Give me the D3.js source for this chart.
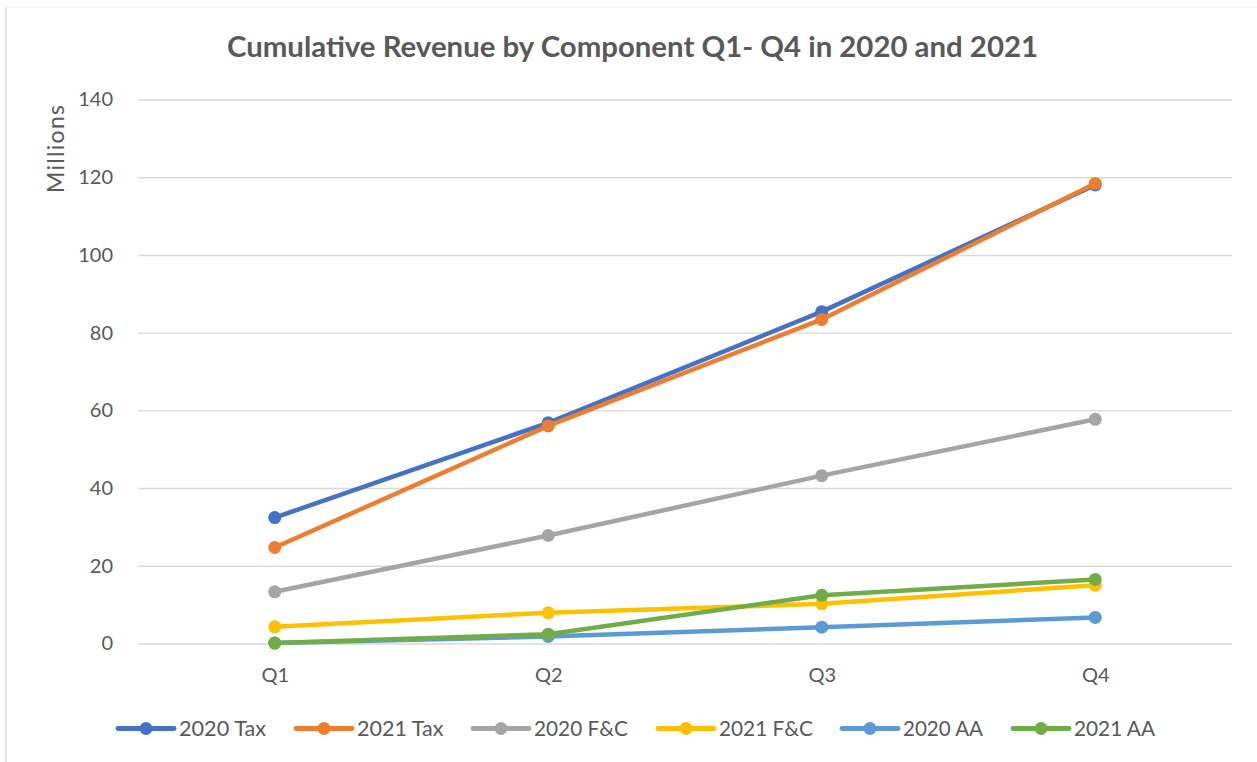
<!DOCTYPE html>
<html>
<head>
<meta charset="utf-8">
<script src="https://cdn.jsdelivr.net/npm/d3@7"></script>
<style>
  html, body { margin: 0; padding: 0; background: #fff; }
  svg { display: block; }
  text { font-family: Lato, "Open Sans", sans-serif; fill: #595959; }
</style>
</head>
<body>
<svg id="chart" width="1257" height="762"></svg>
<script>
// Quarterly cumulative revenue, in millions
const quarters = ["Q1", "Q2", "Q3", "Q4"];
const seriesNames = ["2020 Tax", "2021 Tax", "2020 F&C", "2021 F&C", "2020 AA", "2021 AA"];
const tax2020 = [32.4, 56.8, 85.4, 118.0];
const tax2021 = [24.7, 56.0, 83.4, 118.4];
const fc2020  = [13.3, 27.8, 43.2, 57.7];
const fc2021  = [4.3, 7.9, 10.2, 15.0];
const aa2020  = [0.1, 1.8, 4.2, 6.7];
const aa2021  = [0.1, 2.4, 12.4, 16.5];
const yTicks = [0, 20, 40, 60, 80, 100, 120, 140];
const colors = ["#4472C4", "#ED7D31", "#A5A5A5", "#FFC000", "#5B9BD5", "#70AD47"];

const seriesValues = [tax2020, tax2021, fc2020, fc2021, aa2020, aa2021];
const series = seriesNames.map((name, i) => ({ name, values: seriesValues[i], color: colors[i] }));

const svg = d3.select("#chart");

// chart frame edges
svg.append("line").attr("x1", 6).attr("x2", 6).attr("y1", 7).attr("y2", 762)
  .attr("stroke", "#d9d9d9").attr("stroke-width", 1.5);
svg.append("line").attr("x1", 6).attr("x2", 1257).attr("y1", 7).attr("y2", 7)
  .attr("stroke", "#f3f3f3").attr("stroke-width", 1);

const plot = { left: 138, right: 1232, top: 99.5, bottom: 643.5 };

const x = d3.scalePoint().domain(quarters).range([plot.left, plot.right]).padding(0.5);
const y = d3.scaleLinear().domain([0, 140]).range([plot.bottom, plot.top]);

// title
svg.append("text")
  .attr("x", 632.5).attr("y", 57)
  .attr("text-anchor", "middle")
  .attr("font-size", 28).attr("font-weight", 700)
  .attr("textLength", 811).attr("lengthAdjust", "spacingAndGlyphs")
  .text("Cumulative Revenue by Component Q1- Q4 in 2020 and 2021");

// y axis with gridlines
const yAxis = d3.axisLeft(y).tickValues(yTicks).tickSize(-(plot.right - plot.left)).tickPadding(25);
const gy = svg.append("g").attr("transform", `translate(${plot.left},0)`).call(yAxis);
gy.select(".domain").remove();
gy.selectAll(".tick line").attr("stroke", "#d9d9d9").attr("stroke-width", 1.4);
gy.selectAll(".tick text").attr("font-size", 20).attr("fill", "#595959")
  .style("font-family", "Lato, 'Open Sans', sans-serif");

// x axis labels
const xAxis = d3.axisBottom(x).tickSize(0).tickPadding(24);
const gx = svg.append("g").attr("transform", `translate(0,${plot.bottom})`).call(xAxis);
gx.select(".domain").remove();
gx.selectAll(".tick text").attr("font-size", 20).attr("fill", "#595959")
  .style("font-family", "Lato, 'Open Sans', sans-serif");

// y axis title
svg.append("text")
  .attr("transform", "translate(64,149) rotate(-90)")
  .attr("text-anchor", "middle")
  .attr("font-size", 23)
  .attr("textLength", 88).attr("lengthAdjust", "spacing")
  .text("Millions");

// series lines and markers
const line = d3.line().x((d, i) => x(quarters[i])).y(d => y(d));
const gs = svg.append("g");
series.forEach(s => {
  const g = gs.append("g");
  g.append("path").datum(s.values)
    .attr("d", line)
    .attr("fill", "none").attr("stroke", s.color)
    .attr("stroke-width", 4.5).attr("stroke-linejoin", "round").attr("stroke-linecap", "round");
  g.selectAll("circle").data(s.values).join("circle")
    .attr("cx", (d, i) => x(quarters[i])).attr("cy", d => y(d))
    .attr("r", 6.5).attr("fill", s.color);
});

// legend: symbol start, label start and label width of each entry
const legendStarts = [118, 296, 473, 658, 842, 1013];
const legendTextWidths = [87, 86.5, 94, 94, 80, 81];
const legendY = 728.5;
const lg = svg.append("g");
series.forEach((s, i) => {
  const x0 = legendStarts[i];
  const g = lg.append("g").attr("transform", `translate(${x0},${legendY})`);
  g.append("line").attr("x1", 0).attr("x2", 56).attr("y1", 0).attr("y2", 0)
    .attr("stroke", s.color).attr("stroke-width", 4.8).attr("stroke-linecap", "round");
  g.append("circle").attr("cx", 28).attr("cy", 0).attr("r", 6.5).attr("fill", s.color);
  g.append("text").attr("x", 61).attr("y", 0).attr("dy", "0.36em")
    .attr("font-size", 21.5)
    .attr("textLength", legendTextWidths[i]).attr("lengthAdjust", "spacingAndGlyphs")
    .text(s.name);
});
</script>
</body>
</html>
